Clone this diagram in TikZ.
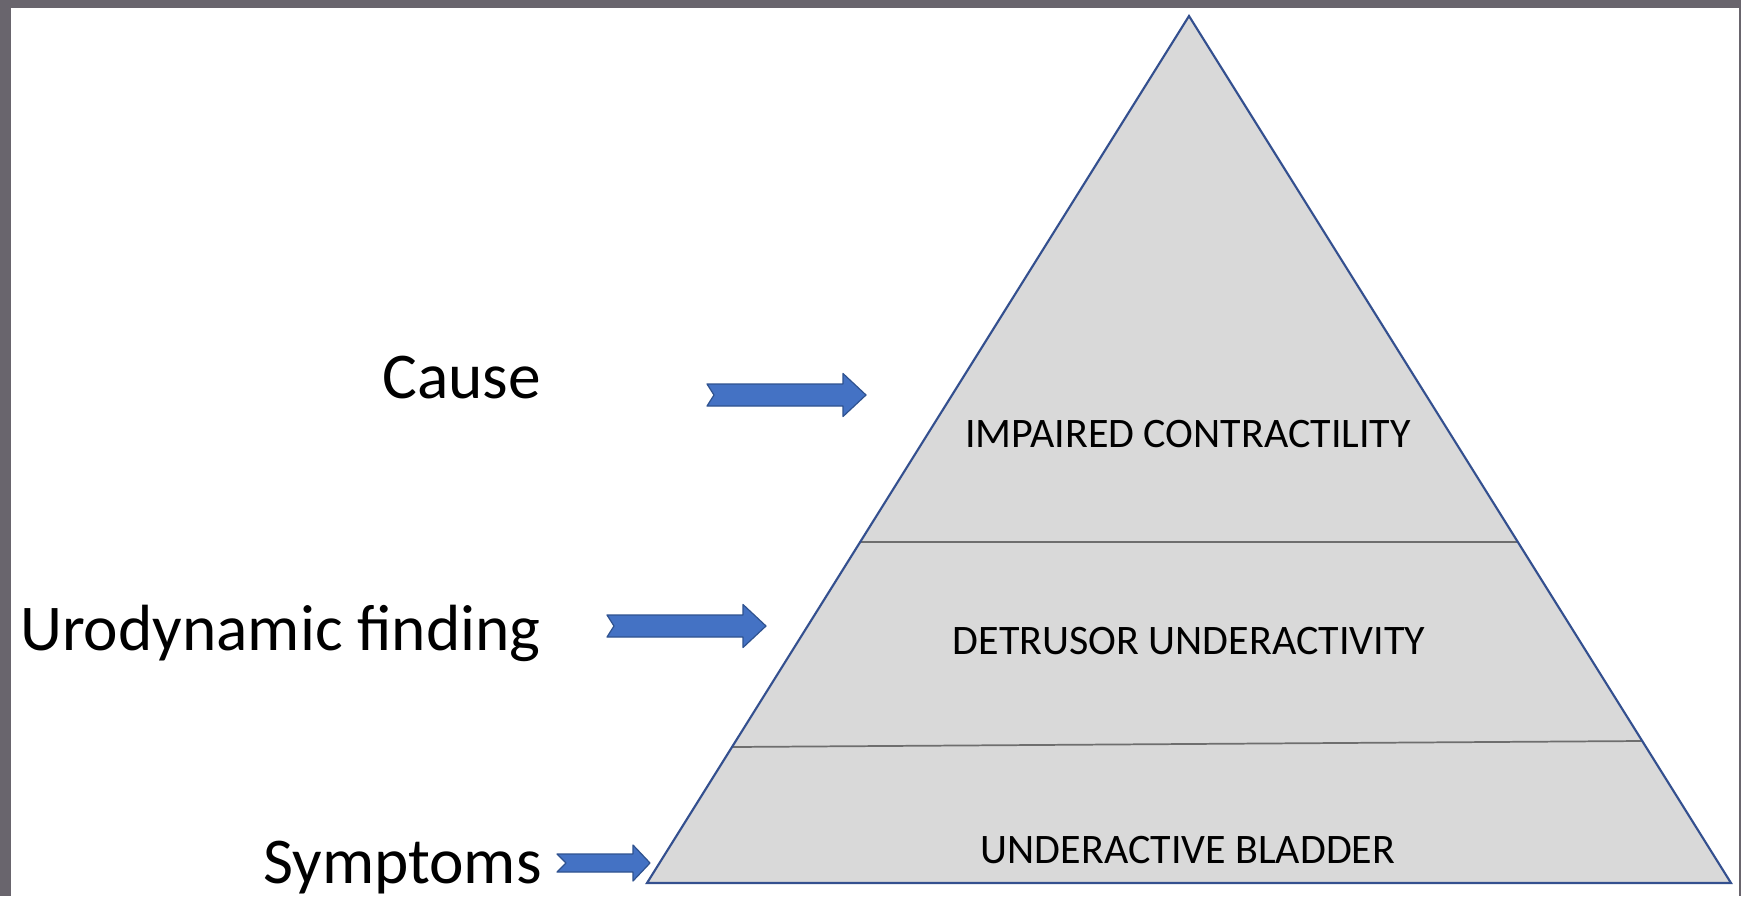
\documentclass[tikz,border=0pt]{standalone}
\usepackage{fontspec}
\setmainfont{Carlito}
\definecolor{framegray}{HTML}{69656D}
\definecolor{pyrfill}{HTML}{D9D9D9}
\definecolor{pyredge}{HTML}{34508F}
\definecolor{arrfill}{HTML}{4472C4}
\definecolor{arredge}{HTML}{2F528F}
\definecolor{divgray}{HTML}{6E6E6E}
\newcommand\chevarrow[7]{% tail x, notch x, head base x, tip x, centre y, shaft half, head half
  \draw[fatarrow] (#1,{#5-#6}) -- (#3,{#5-#6}) -- (#3,{#5-#7}) -- (#4,#5) -- (#3,{#5+#7}) -- (#3,{#5+#6}) -- (#1,{#5+#6}) -- (#2,#5) -- cycle;}
\begin{document}
\begin{tikzpicture}[x=0.75pt,y=-0.75pt,
  sidelabel/.style={anchor=base east, font=\fontsize{49}{58}\selectfont, inner sep=0pt},
  levellabel/.style={anchor=base, font=\fontsize{31.5}{38}\selectfont, inner sep=0pt},
  fatarrow/.style={fill=arrfill, draw=arredge, line width=0.9pt, line join=round},
  pyramid/.style={draw=pyredge, line width=1.6pt, line join=miter},
  divider/.style={draw=divgray, line width=1.3pt}]
\useasboundingbox (0,0) rectangle (1741,896);
\fill[framegray] (0,0) rectangle (1741,896);
\fill[white] (11,8) rectangle (1739,896);
% pyramid
\coordinate (apex) at (1189,16);
\coordinate (bl) at (647,883);
\coordinate (br) at (1731,883);
\fill[pyrfill] (apex) -- (br) -- (bl) -- cycle;
\coordinate (d1l) at (860,542);
\coordinate (d1r) at (1518,542);
\coordinate (d2l) at (732,747);
\coordinate (d2r) at (1642,741);
\draw[divider] (d1l) -- (d1r);
\draw[divider] (d2l) -- (d2r);
\draw[pyramid] (apex) -- (br) -- (bl) -- cycle;
% level texts
\node[levellabel] (lev1) at (1188,447) {IMPAIRED CONTRACTILITY};
\node[levellabel] (lev2) at (1189,654) {DETRUSOR UNDERACTIVITY};
\node[levellabel] (lev3) at (1188,863) {UNDERACTIVE BLADDER};
% side labels
\node[sidelabel] (cause) at (541,398) {Cause};
\node[sidelabel] (uro) at (541,650) {Urodynamic finding};
\node[sidelabel] (sym) at (542,883) {Symptoms};
% arrows
\chevarrow{707}{714}{843}{866}{395}{11}{21.5}
\chevarrow{607}{614}{743}{766}{626}{11}{21.5}
\chevarrow{557}{566}{633}{650}{863}{9}{18}
\end{tikzpicture}
\end{document}
